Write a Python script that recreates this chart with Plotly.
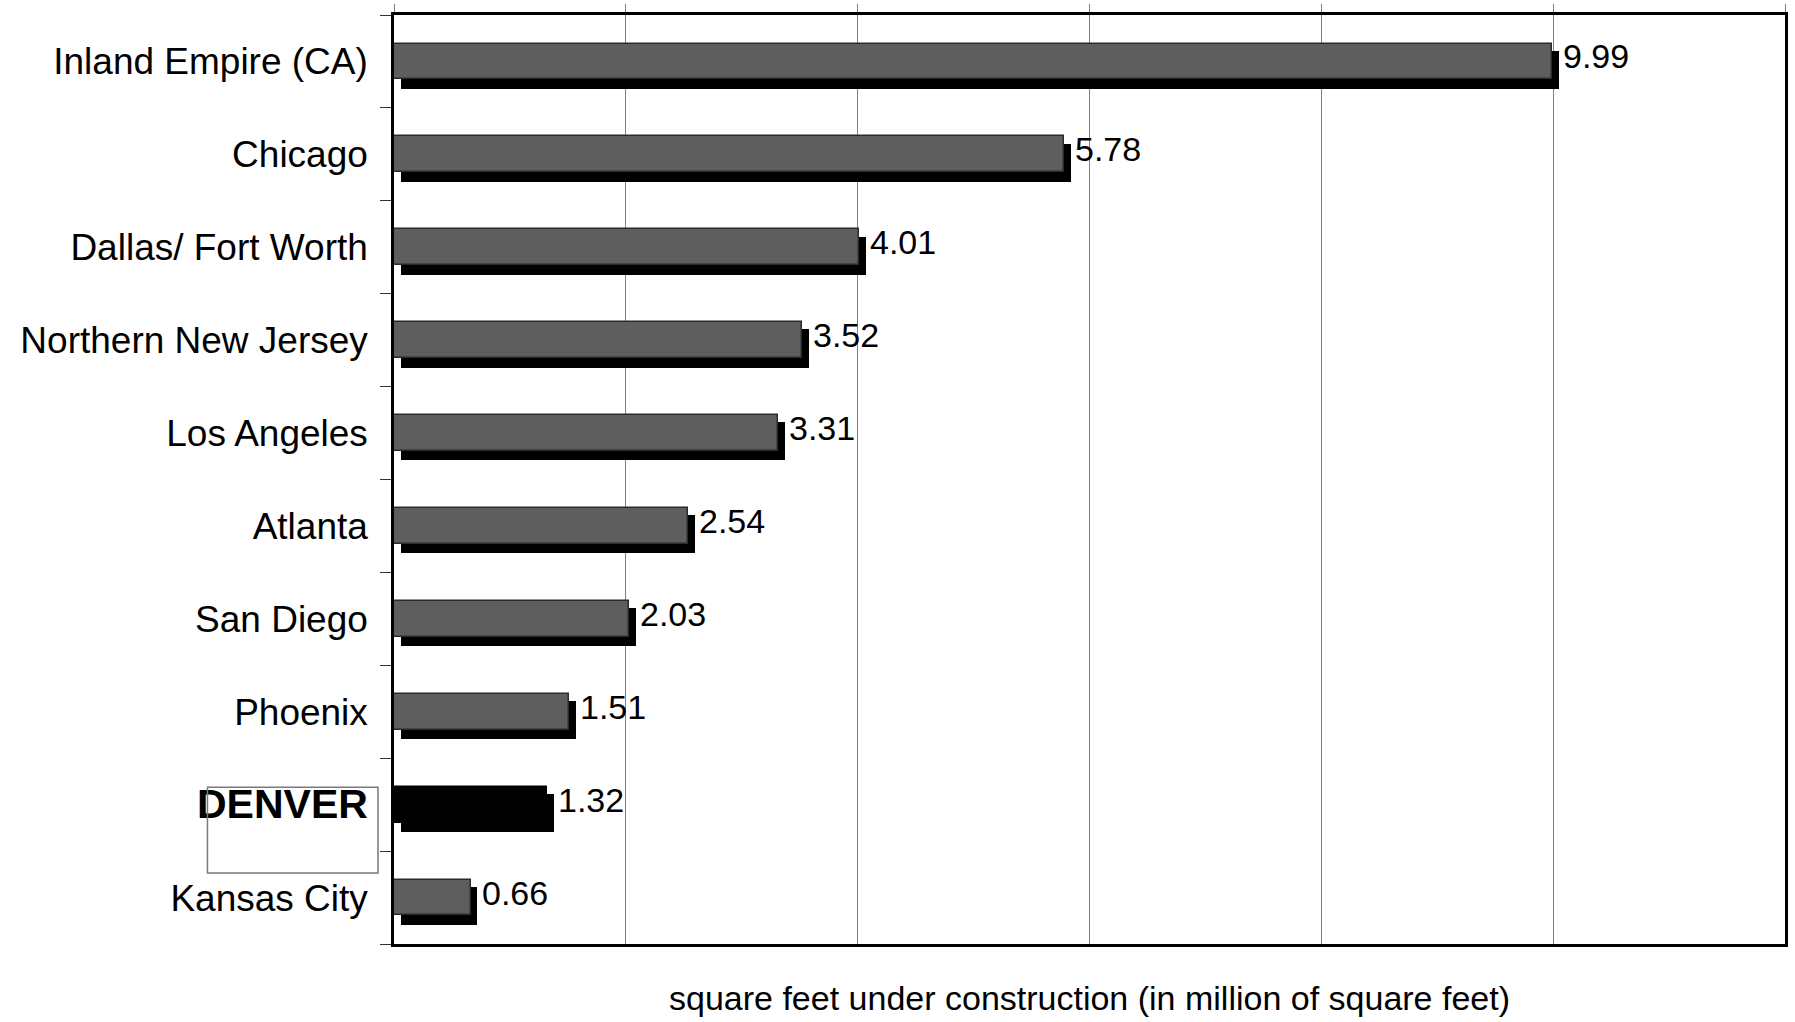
import plotly.graph_objects as go

# Industrial space under construction, by market (million sq ft)
cities = [
    "Inland Empire (CA)", "Chicago", "Dallas/Fort Worth", "Northern New Jersey",
    "Los Angeles", "Atlanta", "San Diego", "Phoenix", "Denver", "Kansas City",
]
tick_labels = [
    "Inland Empire (CA)", "Chicago", "Dallas/ Fort Worth", "Northern New Jersey",
    "Los Angeles", "Atlanta", "San Diego", "Phoenix",
    '<span style="font-size:41px"><b>DENVER</b></span>', "Kansas City",
]
values = [9.99, 5.78, 4.01, 3.52, 3.31, 2.54, 2.03, 1.51, 1.32, 0.66]
highlight = "Denver"

bar_fill = ["#000000" if c == highlight else "#5e5e5e" for c in cities]
bar_edge = ["#000000" if c == highlight else "#2b2b2b" for c in cities]

fig = go.Figure()

# drop shadow behind each bar
fig.add_trace(go.Bar(
    y=cities, x=values, base=0.06, orientation="h",
    width=0.41, offset=-0.115,
    marker=dict(color="#000000", line=dict(width=0)),
    hoverinfo="skip", showlegend=False,
))

# main bars
fig.add_trace(go.Bar(
    y=cities, x=values, orientation="h",
    width=0.385, offset=-0.1925,
    marker=dict(color=bar_fill, line=dict(color=bar_edge, width=1.5)),
    showlegend=False,
))

# value labels just past the shadow
for c, v in zip(cities, values):
    fig.add_annotation(
        x=v, y=c, xref="x", yref="y", text=f"{v:.2f}",
        showarrow=False, xanchor="left", yanchor="middle",
        xshift=9, yshift=5,
        font=dict(family="Liberation Sans, Arial, sans-serif", size=34, color="#000000"),
    )

# axis title below the plot
fig.add_annotation(
    x=0.5, y=-0.058, xref="paper", yref="paper",
    text="square feet under construction (in million of square feet)",
    showarrow=False, xanchor="center", yanchor="middle",
    font=dict(family="Liberation Sans, Arial, sans-serif", size=34, color="#000000"),
)

# outline box around the highlighted market label
fig.add_shape(
    type="rect", xref="paper", yref="paper",
    x0=-0.1341, x1=-0.0115, y0=0.0763, y1=0.1688,
    line=dict(color="#7a7a7a", width=1.5), fillcolor="rgba(0,0,0,0)",
)

fig.update_layout(
    width=1795, height=1022,
    margin=dict(l=394, r=7, t=14, b=78),
    paper_bgcolor="#ffffff", plot_bgcolor="#ffffff",
    barmode="overlay",
    bargap=0,
    font=dict(family="Liberation Sans, Arial, sans-serif", color="#000000"),
    xaxis=dict(
        range=[0, 12], dtick=2, tick0=0, side="top",
        showticklabels=False, ticks="outside", ticklen=8,
        tickcolor="#808080", tickwidth=1,
        showgrid=True, gridcolor="#808080", gridwidth=1,
        showline=True, linecolor="#000000", linewidth=2.5, mirror=True,
        zeroline=False, fixedrange=True,
    ),
    yaxis=dict(
        type="category", categoryorder="array", categoryarray=cities,
        tickvals=cities, ticktext=tick_labels,
        autorange="reversed",
        tickson="boundaries", ticks="outside", ticklen=11,
        tickcolor="#333333", tickwidth=1,
        ticklabelstandoff=16,
        tickfont=dict(family="Liberation Sans, Arial, sans-serif", size=37, color="#000000"),
        showgrid=False,
        showline=True, linecolor="#000000", linewidth=2.5, mirror=True,
        fixedrange=True,
    ),
)

fig.write_html("out.html")
